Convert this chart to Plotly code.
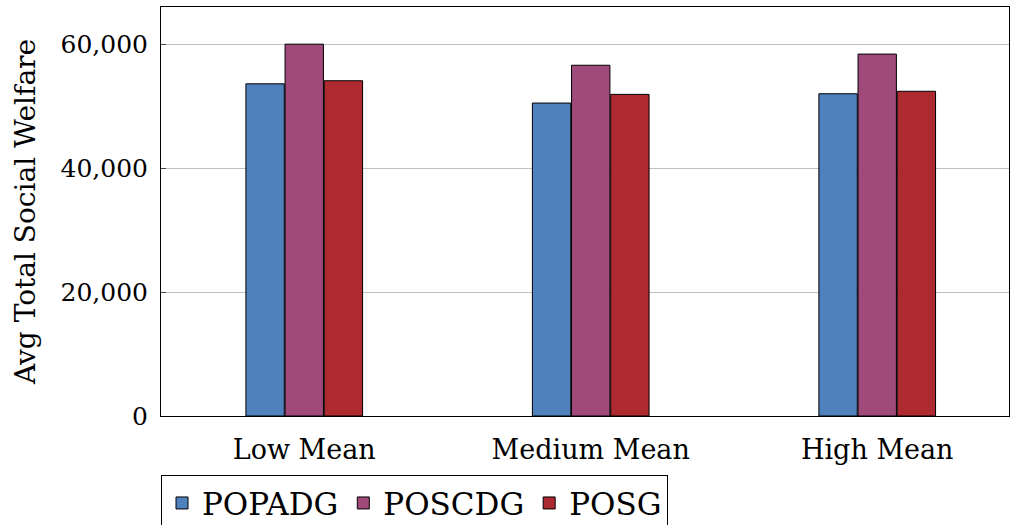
import plotly.graph_objects as go

categories = ["Low Mean", "Medium Mean", "High Mean"]
series_names = ["POPADG", "POSCDG", "POSG"]
popadg = [53600, 50500, 52000]
poscdg = [60000, 56600, 58400]
posg = [54100, 51900, 52400]
tick_vals = [0, 20000, 40000, 60000]
tick_text = ["0", "20,000", "40,000", "60,000"]

colors = ["#4f81bd", "#9f4a7b", "#ae2a31"]
font_family = "DejaVu Serif, serif"

fig = go.Figure()
for name, vals, col in zip(series_names, [popadg, poscdg, posg], colors):
    fig.add_trace(go.Bar(
        x=list(range(len(categories))), y=vals, name=name,
        marker=dict(color=col, line=dict(color="black", width=1)),
    ))

fig.update_layout(
    width=1011, height=525,
    margin=dict(l=161, r=2, t=7, b=109, autoexpand=False),
    plot_bgcolor="white", paper_bgcolor="white",
    barmode="group", bargap=0.59, bargroupgap=0.02,
    font=dict(family=font_family, size=26, color="black"),
    showlegend=True,
    legend=dict(
        orientation="h", x=0, xanchor="left", y=-0.145, yanchor="top",
        bordercolor="black", borderwidth=1, bgcolor="white",
        font=dict(family=font_family, size=31),
        itemwidth=30, tracegroupgap=0,
    ),
)
fig.update_xaxes(
    range=[-0.5, 2.46], tickmode="array",
    tickvals=list(range(len(categories))), ticktext=categories,
    tickfont=dict(size=27), ticklabelstandoff=10,
    showline=True, linecolor="black", linewidth=1, mirror=True,
    showgrid=False, ticks="", zeroline=False,
)
fig.update_yaxes(
    range=[0, 66000], tickmode="array", tickvals=tick_vals, ticktext=tick_text,
    tickfont=dict(size=25), ticklabelstandoff=7,
    showline=True, linecolor="black", linewidth=1, mirror=True,
    showgrid=True, gridcolor="#c0c0c0", gridwidth=1,
    ticks="inside", ticklen=5, tickcolor="#444", zeroline=False,
    title=dict(text="Avg Total Social Welfare", standoff=16,
               font=dict(family=font_family, size=28)),
)

fig.write_html("out.html")
